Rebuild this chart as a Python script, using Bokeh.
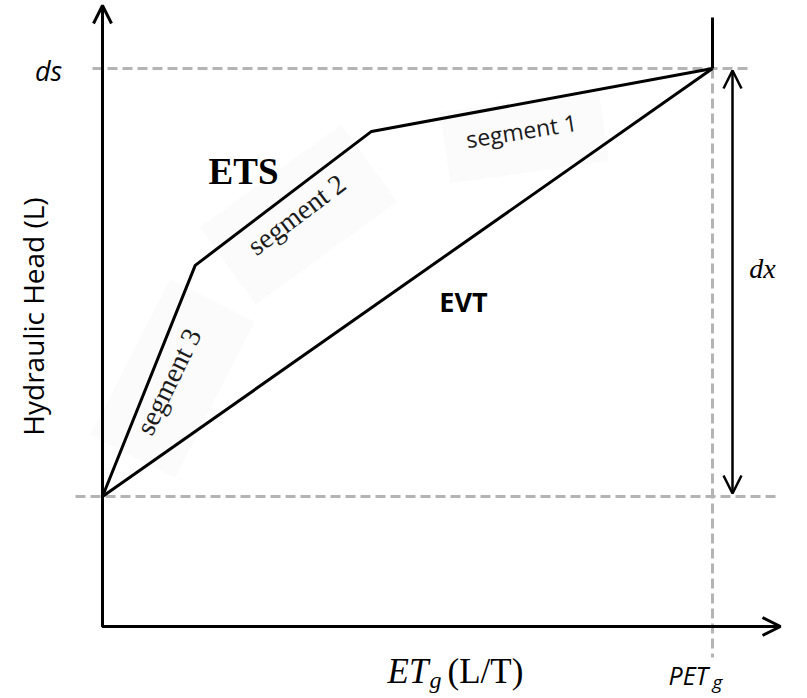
import math
from bokeh.plotting import figure
from bokeh.models import Range1d, Arrow, OpenHead
from bokeh.core.properties import value
from bokeh.embed import file_html
from bokeh.resources import INLINE

# --- data: ET as a fraction of PET_g, head as a fraction of the extinction depth ---
pet = 1.0          # potential ET rate (x position of PET_g)
ds = 1.0           # head at the ET surface
ets_et = [0.0, 0.152, 0.441, pet]      # ETS piecewise-linear curve
ets_head = [0.0, 0.540, 0.853, ds]
evt_et = [0.0, pet]                     # EVT linear curve
evt_head = [0.0, ds]
segment_names = ["segment 1", "segment 2", "segment 3"]

# --- layout (pixels per data unit, origin of the curves on the page) ---
SX, SY = 610.0, 428.0
W, H = 807, 698
X0_PX, Y0_PX = 102.0, 496.0

def sx(px):
    return (px - X0_PX) / SX

def sy(py):
    return (Y0_PX - py) / SY

p = figure(width=W, height=H,
           x_range=Range1d(sx(0), sx(W)), y_range=Range1d(sy(H), sy(0)),
           x_axis_type=None, y_axis_type=None,
           output_backend="svg", toolbar_location=None, min_border=0)
p.outline_line_color = None
p.background_fill_color = "white"
p.border_fill_color = "white"

GREY = "#b4b4b4"
DASH = "10 5"
axis_floor = sy(626)
y_top = sy(5)
x_end = sx(780)

# faint label backdrops
p.rect(x=[sx(524), sx(298), sx(172)], y=[sy(136), sy(214), sy(378)],
       width=[160, 175, 175], height=[72, 95, 95],
       width_units="screen", height_units="screen",
       angle=[math.radians(8), math.radians(36), math.radians(63)],
       fill_color="#fbfbfb", line_color=None)

# dashed guides
p.line([sx(92), sx(750)], [ds, ds], line_color=GREY, line_width=3, line_dash=DASH)
p.line([sx(75), sx(780)], [0, 0], line_color=GREY, line_width=3, line_dash=DASH)
p.line([pet, pet], [ds, sy(657)], line_color=GREY, line_width=3, line_dash=DASH)

# axes
p.line([0, 0, x_end - 0.005], [y_top - 0.005, axis_floor, axis_floor],
       line_color="black", line_width=3)
p.add_layout(Arrow(end=OpenHead(size=18, line_width=3, line_color="black"),
                   x_start=0, y_start=axis_floor, x_end=0, y_end=y_top,
                   line_width=3, line_color="black"))
p.add_layout(Arrow(end=OpenHead(size=18, line_width=3, line_color="black"),
                   x_start=0, y_start=axis_floor, x_end=x_end, y_end=axis_floor,
                   line_width=3, line_color="black"))

# curves
p.line(ets_et, ets_head, line_color="black", line_width=3)
p.line(evt_et, evt_head, line_color="black", line_width=3)
p.line([pet, pet], [ds, sy(17)], line_color="black", line_width=3)

# dx double arrow
xa = sx(732)
p.add_layout(Arrow(start=OpenHead(size=18, line_width=2.5, line_color="black"),
                   end=OpenHead(size=18, line_width=2.5, line_color="black"),
                   x_start=xa, y_start=sy(493), x_end=xa, y_end=sy(70),
                   line_width=2.5, line_color="black"))

# labels
p.text(x=[sx(48)], y=[sy(70)], text=["ds"], text_font=value("Open Sans"),
       text_font_style="italic", text_font_size="27px", text_align="center",
       text_baseline="alphabetic", text_color="black")
p.text(x=[sx(762)], y=[sy(268)], text=["dx"], text_font=value("Liberation Serif"),
       text_font_style="italic", text_font_size="28px", text_align="center",
       text_baseline="alphabetic", text_color="black")
p.text(x=[sx(243)], y=[sy(171)], text=["ETS"], text_font=value("Liberation Serif"),
       text_font_style="bold", text_font_size="37px", text_align="center",
       text_baseline="alphabetic", text_color="black")
p.text(x=[sx(463)], y=[sy(301)], text=["EVT"], text_font=value("Open Sans"),
       text_font_style="bold", text_font_size="27px", text_align="center",
       text_baseline="alphabetic", text_color="black")
p.text(x=[sx(32)], y=[sy(316)], text=["Hydraulic Head (L)"], text_font=value("Open Sans"),
       text_font_size="28px", text_align="center", text_baseline="alphabetic",
       angle=math.pi / 2, text_color="black")

# x-axis title: ET_g (L/T)
p.text(x=[sx(387)], y=[sy(671)], text=["ET"], text_font=value("Liberation Serif"),
       text_font_style="italic", text_font_size="35px", text_align="left",
       text_baseline="alphabetic", text_color="black")
p.text(x=[sx(429)], y=[sy(679)], text=["g"], text_font=value("Liberation Serif"),
       text_font_style="italic", text_font_size="24px", text_align="left",
       text_baseline="alphabetic", text_color="black")
p.text(x=[sx(447)], y=[sy(671)], text=["(L/T)"], text_font=value("Liberation Serif"),
       text_font_size="35px", text_align="left",
       text_baseline="alphabetic", text_color="black")

# PET_g
p.text(x=[sx(668)], y=[sy(674)], text=["PET"], text_font=value("Open Sans"),
       text_font_style="italic", text_font_size="25px", text_align="left",
       text_baseline="alphabetic", text_color="black")
p.text(x=[sx(712)], y=[sy(681)], text=["g"], text_font=value("Open Sans"),
       text_font_style="italic", text_font_size="19px", text_align="left",
       text_baseline="alphabetic", text_color="black")

# segment labels
p.text(x=[sx(521)], y=[sy(130)], text=[segment_names[0]], text_font=value("Open Sans"),
       text_font_size="23px", text_align="center", text_baseline="middle",
       angle=math.radians(9), text_color="#1a1a1a")
p.text(x=[sx(296), sx(168)], y=[sy(214), sy(381)], text=segment_names[1:],
       text_font=value("Liberation Serif"), text_font_size="28px",
       text_align="center", text_baseline="middle",
       angle=[math.radians(37), math.radians(64)], text_color="#1a1a1a")

open("out.html", "w").write(file_html(p, INLINE))
